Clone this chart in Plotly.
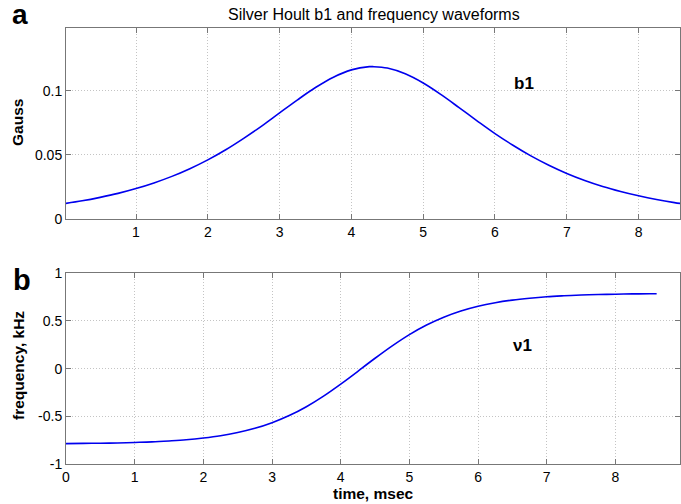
import plotly.graph_objects as go

# time points (msec)
t = [0.0, 0.25, 0.5, 0.75, 1.0, 1.25, 1.5, 1.75, 2.0, 2.25, 2.5, 2.75, 3.0, 3.25,
     3.5, 3.75, 4.0, 4.25, 4.3, 4.5, 4.75, 5.0, 5.25, 5.5, 5.75, 6.0, 6.25, 6.5,
     6.75, 7.0, 7.25, 7.5, 7.75, 8.0, 8.25, 8.5, 8.6]
# b1 amplitude (Gauss)
b1 = [0.0120, 0.0142, 0.0169, 0.0200, 0.0238, 0.0282, 0.0333, 0.0393, 0.0462,
      0.0541, 0.0630, 0.0726, 0.0829, 0.0931, 0.1027, 0.1108, 0.1165, 0.1190,
      0.1190, 0.1179, 0.1134, 0.1062, 0.0971, 0.0870, 0.0767, 0.0667, 0.0576,
      0.0493, 0.0420, 0.0356, 0.0301, 0.0254, 0.0215, 0.0181, 0.0152, 0.0128,
      0.0120]
# frequency (kHz)
nu1 = [-0.786, -0.784, -0.782, -0.779, -0.774, -0.768, -0.758, -0.746, -0.728,
       -0.704, -0.670, -0.626, -0.567, -0.492, -0.399, -0.288, -0.162, -0.028,
       0.0, 0.109, 0.239, 0.357, 0.457, 0.539, 0.604, 0.654, 0.691, 0.719,
       0.739, 0.754, 0.764, 0.772, 0.777, 0.781, 0.784, 0.785, 0.786]

top_xticks = [1, 2, 3, 4, 5, 6, 7, 8]
top_yticks = [0, 0.05, 0.1]
top_yticktext = ["0", "0.05", "0.1"]
bot_xticks = [0, 1, 2, 3, 4, 5, 6, 7, 8, 9]
bot_yticks = [-1, -0.5, 0, 0.5, 1]
bot_yticktext = ["-1", "-0.5", "0", "0.5", "1"]

W, H = 681, 504
ML, MR, MT, MB = 66, 1, 28, 40
PH = H - MT - MB

def py(ypx):
    return (H - MB - ypx) / PH

def px(xpx):
    return (xpx - ML) / (W - ML - MR)

FONT = "Liberation Sans, Arial, Helvetica"
line_col = "#0000ee"
fig = go.Figure()
fig.add_trace(go.Scatter(x=t, y=b1, mode="lines", line=dict(color=line_col, width=1.6, shape="spline"),
                         xaxis="x", yaxis="y", showlegend=False))
fig.add_trace(go.Scatter(x=t, y=nu1, mode="lines", line=dict(color=line_col, width=1.6, shape="spline"),
                         xaxis="x2", yaxis="y2", showlegend=False))

axis_common = dict(showline=True, linecolor="#777777", linewidth=1, mirror="ticks",
                   ticks="inside", ticklen=5, tickcolor="#777777",
                   showgrid=True, gridcolor="#c4c4c4", griddash="1px,2px", gridwidth=1,
                   zeroline=False, tickfont=dict(family=FONT, size=14, color="black"))

fig.update_layout(
    width=W, height=H,
    margin=dict(l=ML, r=MR, t=MT, b=MB),
    plot_bgcolor="white", paper_bgcolor="white",
    xaxis=dict(domain=[0, 1], anchor="y", range=[0.025, 8.577], tickvals=top_xticks, **axis_common),
    yaxis=dict(domain=[py(219), 1], anchor="x", range=[0, 0.1492], tickvals=top_yticks,
               ticktext=top_yticktext, **axis_common),
    xaxis2=dict(domain=[0, 1], anchor="y2", range=[0, 8.94], tickvals=bot_xticks, **axis_common),
    yaxis2=dict(domain=[0, py(273.3)], anchor="x2", range=[-1, 1], tickvals=bot_yticks,
                ticktext=bot_yticktext, **axis_common),
)

bold = dict(family=FONT, size=15.5, color="black")

def pann(text, xp, yp, font, angle=0, yanchor="middle"):
    return dict(text=text, x=px(xp), y=py(yp), xref="paper", yref="paper", showarrow=False,
                xanchor="center", yanchor=yanchor, textangle=angle, font=font)

ann = [
    pann("Silver Hoult b1 and frequency waveforms", 373.5, 14, dict(family=FONT, size=16, color="black")),
    pann("<b>a</b>", 20, -3, dict(family=FONT, size=28, color="black"), yanchor="top"),
    pann("<b>b</b>", 22, 280, dict(family=FONT, size=29, color="black")),
    pann("<b>Gauss</b>", 18, 123, bold, -90),
    pann("<b>frequency, kHz</b>", 18, 366, bold, -90),
    pann("<b>time, msec</b>", 373.5, 494, bold),
    dict(text="<b>b1</b>", x=6.40, y=0.1055, xref="x", yref="y", showarrow=False,
         xanchor="center", yanchor="middle", font=dict(family=FONT, size=17, color="black")),
    dict(text="<b>ν1</b>", x=6.64, y=0.245, xref="x2", yref="y2", showarrow=False,
         xanchor="center", yanchor="middle", font=dict(family=FONT, size=17, color="black")),
]
fig.update_layout(annotations=ann)

fig.write_html("out.html")
